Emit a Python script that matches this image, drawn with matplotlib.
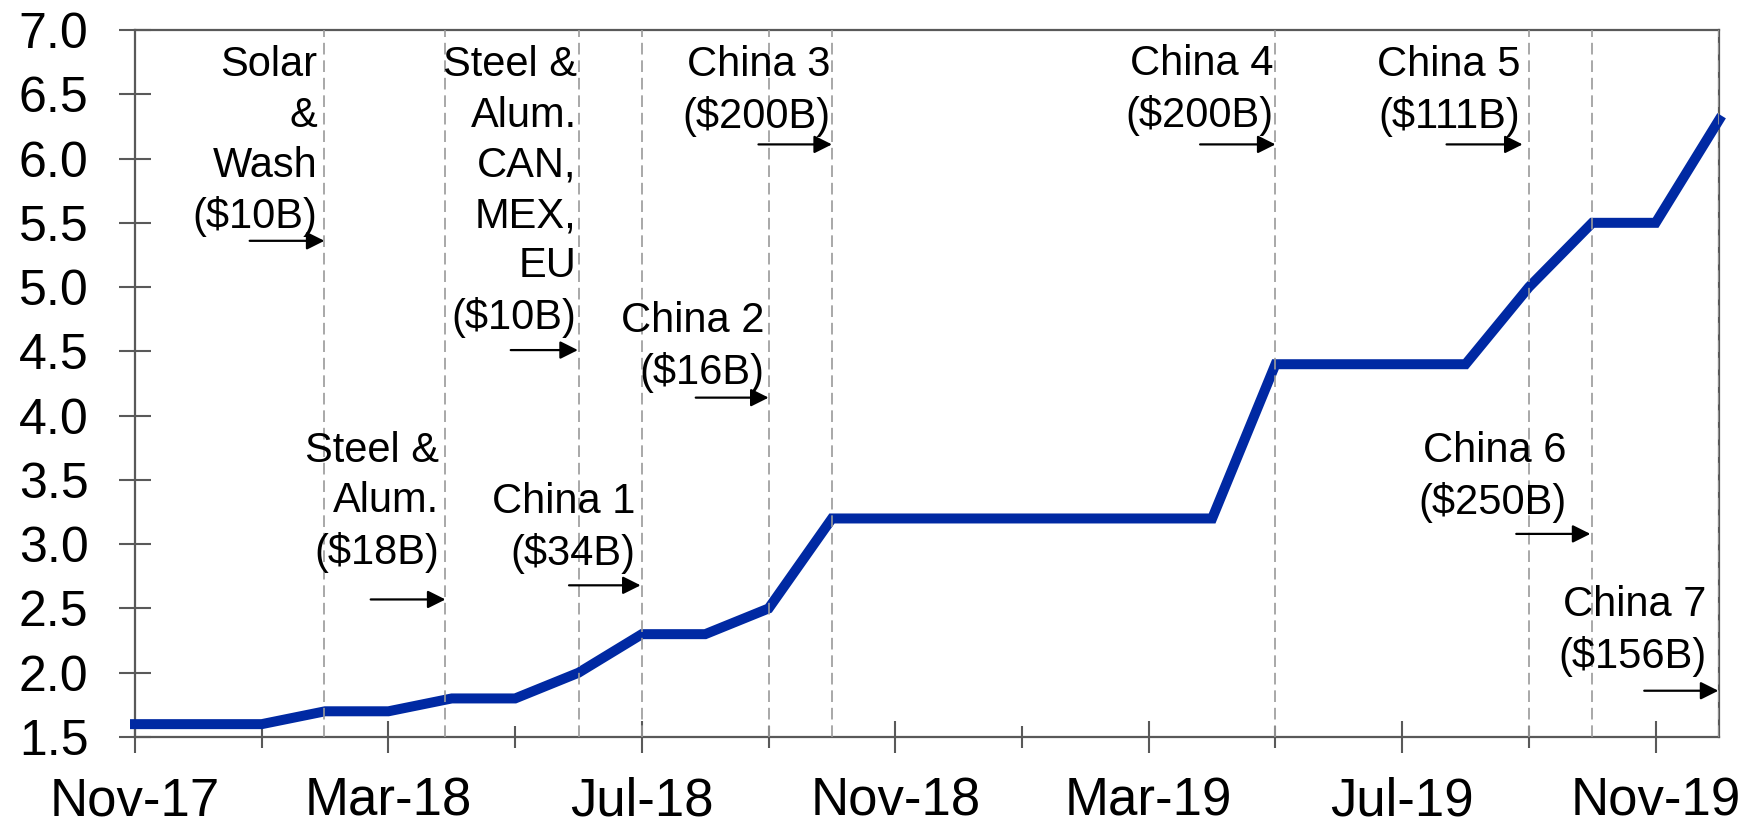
import matplotlib
matplotlib.use('Agg')
import matplotlib.pyplot as plt
from matplotlib.ticker import FixedLocator, FixedFormatter

# ---- data ----
months = ['Nov-17', 'Dec-17', 'Jan-18', 'Feb-18', 'Mar-18', 'Apr-18', 'May-18',
          'Jun-18', 'Jul-18', 'Aug-18', 'Sep-18', 'Oct-18', 'Nov-18', 'Dec-18',
          'Jan-19', 'Feb-19', 'Mar-19', 'Apr-19', 'May-19', 'Jun-19', 'Jul-19',
          'Aug-19', 'Sep-19', 'Oct-19', 'Nov-19', 'Dec-19']
values = [1.6, 1.6, 1.6, 1.7, 1.7, 1.8, 1.8, 2.0, 2.3, 2.3, 2.5, 3.2, 3.2, 3.2,
          3.2, 3.2, 3.2, 3.2, 4.4, 4.4, 4.4, 4.4, 5.0, 5.5, 5.5, 6.3]
event_labels = ['Solar\n&\nWash\n($10B)',
                'Steel &\nAlum.\n($18B)',
                'Steel &\nAlum.\nCAN,\nMEX,\nEU\n($10B)',
                'China 1\n($34B)',
                'China 2\n($16B)',
                'China 3\n($200B)',
                'China 4\n($200B)',
                'China 5\n($111B)',
                'China 6\n($250B)',
                'China 7\n($156B)']
# event timing, in months since Nov-17
event_month = [2.99, 4.9, 7.0, 8.0, 10.0, 11.0, 18.0, 22.0, 23.0, 25.0]
yticks = [1.5, 2.0, 2.5, 3.0, 3.5, 4.0, 4.5, 5.0, 5.5, 6.0, 6.5, 7.0]

# ---- layout of annotations: (text right x, text top y, arrow start x, arrow tip x, arrow y)
ann_layout = [
    (2.88, 6.88, 1.81, 2.99, 5.36),
    (4.80, 3.88, 3.72, 4.90, 2.57),
    (6.97, 6.88, 5.93, 6.99, 4.51),
    (7.90, 3.48, 6.85, 7.98, 2.68),
    (9.93, 4.89, 8.85, 10.0, 4.14),
    (10.98, 6.88, 9.84, 11.0, 6.11),
    (17.97, 6.89, 16.81, 18.0, 6.11),
    (21.86, 6.88, 20.7, 21.9, 6.11),
    (22.6, 3.88, 21.8, 22.97, 3.08),
    (24.8, 2.68, 23.82, 24.99, 1.86),
]

plt.rcParams['font.family'] = ['Liberation Sans', 'DejaVu Sans']

fig = plt.figure(figsize=(17.56, 8.22), dpi=100)
ax = fig.add_axes([135 / 1756, 1 - 737 / 822, (1719 - 135) / 1756, (737 - 30) / 822])

x = list(range(len(months)))
ax.plot(x, values, color='#0029A3', lw=7.2, solid_joinstyle='miter', zorder=3,
        clip_on=False)

for em in event_month:
    ax.axvline(em, color='#9A9A9A', lw=1.2, linestyle=(0, (7, 3.5)), zorder=4)

for lab, (tx, ty, ax0, ax1, ay) in zip(event_labels, ann_layout):
    ax.text(tx, ty, lab, ha='right', va='top', ma='right', fontsize=30,
            linespacing=1.33, color='black', zorder=5)
    ax.annotate('', xy=(ax1, ay), xytext=(ax0, ay),
                arrowprops=dict(arrowstyle='-|>,head_length=0.4,head_width=0.2',
                                color='black', lw=1.6, mutation_scale=27,
                                shrinkA=0, shrinkB=0), zorder=5)

ax.set_xlim(0, 25)
ax.set_ylim(1.5, 7.0)

major_idx = list(range(0, 25, 4))
ax.xaxis.set_major_locator(FixedLocator(major_idx))
ax.xaxis.set_major_formatter(FixedFormatter([months[i] for i in major_idx]))
ax.xaxis.set_minor_locator(FixedLocator(list(range(2, 25, 4))))
ax.set_yticks(yticks)
ax.set_yticklabels(['%.1f' % v for v in yticks])

spine_c = '#595959'
for s in ax.spines.values():
    s.set_color(spine_c)
    s.set_linewidth(1.6)

ax.tick_params(axis='y', which='major', direction='inout', length=23, width=1.5,
               color=spine_c, labelsize=36, pad=22, labelcolor='black')
ax.tick_params(axis='x', which='major', direction='inout', length=23, width=1.5,
               color=spine_c, labelsize=38, pad=17, labelcolor='black')
ax.tick_params(axis='x', which='minor', direction='inout', length=16, width=1.5,
               color=spine_c)

fig.savefig('out.png', dpi=100)
